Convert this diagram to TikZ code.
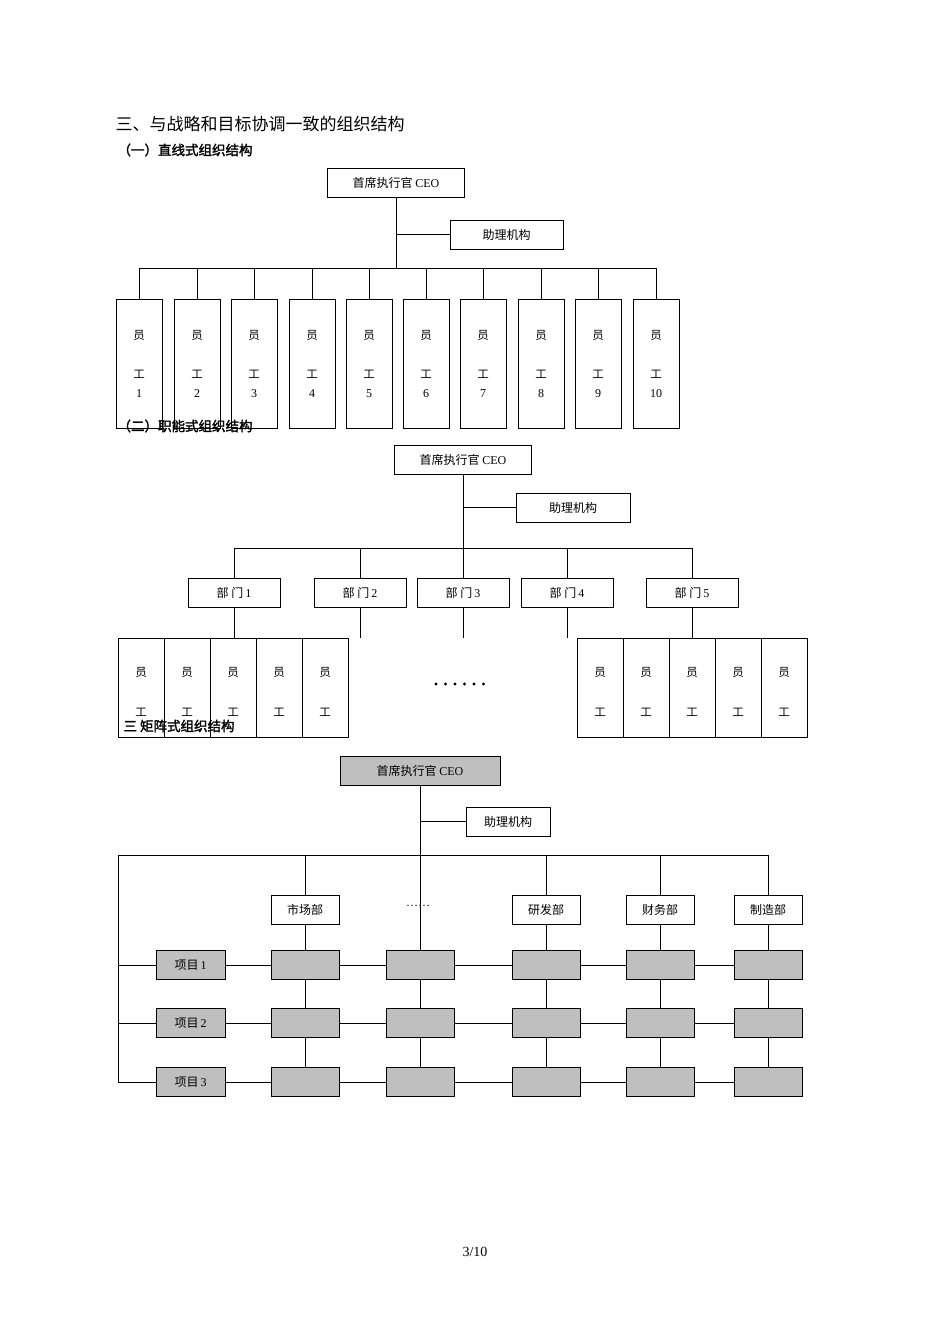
\documentclass[tikz,border=0pt]{standalone}
\usepackage{fontspec}
\setmainfont{Liberation Serif}
\newfontfamily\cjk{Noto Sans CJK SC}
\newfontfamily\cjkb{Noto Sans CJK SC}[FakeBold=2]
\begin{document}
\begin{tikzpicture}[x=1pt,y=-1pt,
  bx/.style={draw,line width=0.8pt,inner sep=0pt,font=\fontsize{12}{14}\selectfont},
  gb/.style={bx,fill=gray!50},
  ln/.style={line width=0.8pt},
  ch/.style={font=\cjk\fontsize{11.5}{13}\selectfont}]
\useasboundingbox (0,0) rectangle (950,1344);
\fill[white] (0,0) rectangle (950,1344);
% headings
\node[anchor=west,font=\cjk\fontsize{17}{19}\selectfont] at (112,124) {三、与战略和目标协调一致的组织结构};
\node[anchor=west,font=\cjkb\fontsize{13.5}{15}\selectfont] at (114,150) {（一）直线式组织结构};
% chart 1
\node[bx,minimum width=137pt,minimum height=29pt] (c1) at (396,182.5) {\cjk 首席执行官 \rmfamily CEO};
\node[bx,minimum width=113pt,minimum height=29pt] (a1) at (506.5,234.5) {\cjk 助理机构};
\coordinate (c1b) at (396,268);
\draw[ln] (c1.south) -- (c1b);
\draw[ln] (a1.west) -- (a1.west -| c1b);
\draw[ln] (139,268) -- (656,268);
\foreach \i/\x in {1/139,2/197,3/254,4/312,5/369,6/426,7/483,8/541,9/598,10/656}{
  \node[bx,minimum width=46pt,minimum height=129pt] (e\i) at (\x,363.5) {};
  \draw[ln] (\x,268) -- (e\i.north);
  \node[ch] at (\x,335) {员};
  \node[ch] at (\x,374) {工};
  \node[font=\fontsize{12}{14}\selectfont] at (\x,394) {\i};
}
\node[anchor=west,font=\cjkb\fontsize{13.5}{15}\selectfont] at (114,426) {（二）职能式组织结构};
% chart 2
\node[bx,minimum width=137pt,minimum height=29pt] (c2) at (463,459.5) {\cjk 首席执行官 \rmfamily CEO};
\node[bx,minimum width=114pt,minimum height=29pt] (a2) at (573,507.5) {\cjk 助理机构};
\coordinate (c2b) at (463,548);
\draw[ln] (c2.south) -- (c2b);
\draw[ln] (a2.west) -- (a2.west -| c2b);
\draw[ln] (234,548) -- (692,548);
\foreach \i/\x in {1/234,2/360,3/463,4/567,5/692}{
  \node[bx,minimum width=92pt,minimum height=29pt] (d\i) at (\x,592.5) {{\cjk 部\ 门}\,\i};
  \draw[ln] (\x,548) -- (d\i.north);
  \coordinate (s\i) at (\x,638);
  \draw[ln] (d\i.south) -- (s\i);
}
\foreach \k in {0,...,4}{
  \node[bx,minimum width=46pt,minimum height=99pt] (l\k) at (141+46*\k,687.5) {};
  \node[ch] at (141+46*\k,672) {员};
  \node[ch] at (141+46*\k,712) {工};
  \node[bx,minimum width=46pt,minimum height=99pt] (r\k) at (600+46*\k,687.5) {};
  \node[ch] at (600+46*\k,672) {员};
  \node[ch] at (600+46*\k,712) {工};
}
\foreach \k in {0,...,5}{ \fill (436+9.5*\k,684) circle (1.6pt); }
\node[anchor=west,font=\cjkb\fontsize{13.5}{15}\selectfont] at (120,726) {三\ 矩阵式组织结构};
% chart 3
\node[gb,minimum width=160pt,minimum height=29pt] (c3) at (420,770.5) {\cjk 首席执行官 \rmfamily CEO};
\node[bx,minimum width=84pt,minimum height=29pt] (a3) at (508,821.5) {\cjk 助理机构};
\coordinate (c3b) at (420,855);
\draw[ln] (c3.south) -- (c3b);
\draw[ln] (a3.west) -- (a3.west -| c3b);
\draw[ln] (118,855) -- (768,855);
\draw[ln] (118,855) -- (118,1082);
\node[font=\fontsize{12}{14}\selectfont] at (418,906) {……};
\foreach \j/\x/\t in {1/305/市场部,3/546/研发部,4/660/财务部,5/768/制造部}{
  \node[bx,minimum width=68pt,minimum height=29pt] (m\j) at (\x,909.5) {\cjk \t};
  \draw[ln] (\x,855) -- (m\j.north);
}
\foreach \r/\y in {1/965,2/1023,3/1082}{
  \node[gb,minimum width=69pt,minimum height=29pt] (p\r) at (190.5,\y) {{\cjk 项目}\,\r};
  \draw[ln] (118,\y) -- (p\r.west);
  \foreach \j/\x in {1/305,2/420,3/546,4/660,5/768}{
    \node[gb,minimum width=68pt,minimum height=29pt] (g\r\j) at (\x,\y) {};
  }
  \draw[ln] (p\r.east) -- (g\r1.west);
  \draw[ln] (g\r1.east) -- (g\r2.west);
  \draw[ln] (g\r2.east) -- (g\r3.west);
  \draw[ln] (g\r3.east) -- (g\r4.west);
  \draw[ln] (g\r4.east) -- (g\r5.west);
}
\draw[ln] (c3b) -- (g12.north);
\foreach \j in {1,3,4,5}{ \draw[ln] (m\j.south) -- (g1\j.north); }
\foreach \j in {1,2,3,4,5}{
  \draw[ln] (g1\j.south) -- (g2\j.north);
  \draw[ln] (g2\j.south) -- (g3\j.north);
}
\node[font=\fontsize{14}{16}\selectfont] at (475,1252) {3/10};
\end{tikzpicture}
\end{document}
